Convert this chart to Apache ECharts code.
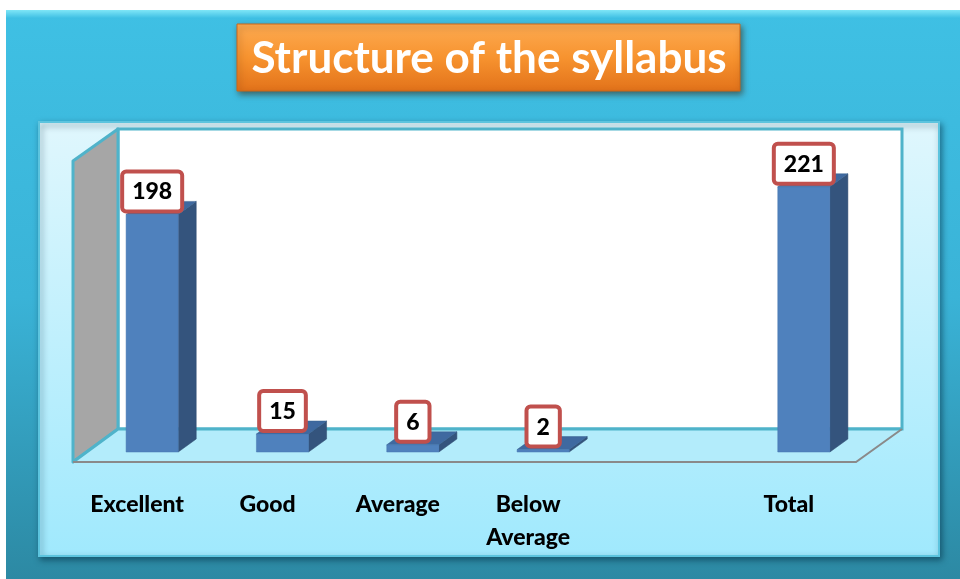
<!DOCTYPE html>
<html>
<head>
<meta charset="utf-8">
<script src="https://cdn.jsdelivr.net/npm/echarts@6/dist/echarts.min.js"></script>
<style>
  html, body { margin: 0; padding: 0; background: #fff; }
  #main { width: 960px; height: 579px; }
</style>
</head>
<body>
<div id="main"></div>
<script>
const titleText = 'Structure of the syllabus';
const categories = ['Excellent', 'Good', 'Average', 'Below\nAverage', '', 'Total'];
const values = [198, 15, 6, 2, null, 221];

// pairs for the custom series, blank slot skipped
const barData = [];
values.forEach(function (v, i) {
  if (v !== null) barData.push([i, v]);
});

const chart = echarts.init(document.getElementById('main'));

function renderBar(params, api) {
  const x = api.value(0);
  const v = api.value(1);
  const base = api.coord([x, 0]);
  const top = api.coord([x, v]);
  const w = api.size([1, 0])[0] * 0.4;
  const dx = 18, dy = 13;
  const l = base[0] - w / 2, r = base[0] + w / 2;
  return {
    type: 'group',
    children: [
      {
        type: 'polygon',
        shape: { points: [[r, base[1]], [r, top[1]], [r + dx, top[1] - dy], [r + dx, base[1] - dy]] },
        style: { fill: '#34547d', stroke: '#2e4a6e', lineWidth: 0.5 }
      },
      {
        type: 'polygon',
        shape: { points: [[l, top[1]], [r, top[1]], [r + dx, top[1] - dy], [l + dx, top[1] - dy]] },
        style: { fill: '#3f69a0', stroke: '#37608f', lineWidth: 0.5 }
      },
      {
        type: 'rect',
        shape: { x: l, y: top[1], width: w, height: base[1] - top[1] },
        style: { fill: '#4f81bd', stroke: '#4677b0', lineWidth: 0.5 }
      },
      {
        type: 'text',
        x: base[0],
        y: top[1] - 5,
        z2: 10,
        style: {
          text: String(v),
          fill: '#000',
          font: '900 23px Lato',
          align: 'center',
          verticalAlign: 'bottom',
          backgroundColor: '#fff',
          borderColor: '#c0504d',
          borderWidth: 4,
          borderRadius: 2,
          padding: [7, 8, 6, 8]
        }
      }
    ]
  };
}

chart.setOption({
  animation: false,
  graphic: [
    // outer frame
    {
      type: 'rect', z: -20,
      shape: { x: 6, y: 10, width: 960, height: 575 },
      style: {
        fill: new echarts.graphic.LinearGradient(0, 0, 0, 1, [
          { offset: 0, color: '#3fc0e4' },
          { offset: 0.5, color: '#3ab3d7' },
          { offset: 1, color: '#2c88a2' }
        ])
      }
    },
    {
      type: 'rect', z: -19,
      shape: { x: 6, y: 10, width: 960, height: 8 },
      style: {
        fill: new echarts.graphic.LinearGradient(0, 0, 0, 1, [
          { offset: 0, color: '#7fe6f7' },
          { offset: 1, color: '#3fc0e4' }
        ])
      }
    },
    // inner panel
    {
      type: 'rect', z: -18,
      shape: { x: 39, y: 122, width: 900, height: 434 },
      style: {
        fill: new echarts.graphic.LinearGradient(0, 0, 0, 1, [
          { offset: 0, color: '#e0f7fd' },
          { offset: 1, color: '#a0e9fd' }
        ]),
        stroke: '#5cc4de',
        lineWidth: 2,
        shadowColor: 'rgba(0,40,60,0.5)',
        shadowBlur: 6,
        shadowOffsetX: 2,
        shadowOffsetY: 3
      }
    },
    // title box
    {
      type: 'rect', z: -10,
      shape: { x: 237, y: 24, width: 503, height: 67 },
      style: {
        fill: new echarts.graphic.LinearGradient(0, 0, 0, 1, [
          { offset: 0, color: '#fdab52' },
          { offset: 0.5, color: '#f7932f' },
          { offset: 1, color: '#e2721a' }
        ]),
        stroke: '#c9661a',
        lineWidth: 1,
        shadowColor: 'rgba(60,30,0,0.55)',
        shadowBlur: 6,
        shadowOffsetX: 2,
        shadowOffsetY: 3
      }
    },
    {
      type: 'text', z: -9,
      x: 489, y: 59,
      style: {
        text: titleText,
        fill: '#fff',
        font: 'bold 44px Lato',
        align: 'center',
        verticalAlign: 'middle',
        shadowColor: 'rgba(0,0,0,0.35)',
        shadowBlur: 2,
        shadowOffsetX: 1,
        shadowOffsetY: 1
      }
    },
    // back wall
    {
      type: 'rect', z: -8,
      shape: { x: 118, y: 129, width: 784, height: 300 },
      style: { fill: '#fff', stroke: '#4fb3ca', lineWidth: 3 }
    },
    // left wall
    {
      type: 'polygon', z: -8,
      shape: { points: [[73, 462], [73, 161], [118, 129], [118, 429]] },
      style: { fill: '#a6a6a6', stroke: '#4fb3ca', lineWidth: 3, lineJoin: 'round' }
    },
    // floor
    {
      type: 'polygon', z: -7,
      shape: { points: [[73, 462], [856, 462], [902, 429], [118, 429]] },
      style: { fill: '#b3ecfb' }
    },
    {
      type: 'polyline', z: -6,
      shape: { points: [[73, 462], [118, 429], [902, 429]] },
      style: { stroke: '#4fb3ca', lineWidth: 3, fill: null }
    },
    {
      type: 'polyline', z: -6,
      shape: { points: [[73, 462], [856, 462], [902, 429]] },
      style: { stroke: '#8a8a8a', lineWidth: 2, fill: null }
    }
  ],
  grid: { left: 87, right: 91, top: 152, bottom: 127 },
  xAxis: {
    type: 'category',
    data: categories,
    axisLine: { show: false },
    axisTick: { show: false },
    splitLine: { show: false },
    axisLabel: {
      interval: 0,
      margin: 36,
      color: '#000',
      fontFamily: 'Lato',
      fontWeight: 900,
      fontSize: 23,
      lineHeight: 33,
      padding: [0, 30, 0, 0]
    }
  },
  yAxis: {
    type: 'value',
    min: 0,
    max: 250,
    show: false,
    splitLine: { show: false }
  },
  series: [{
    type: 'custom',
    renderItem: renderBar,
    encode: { x: 0, y: 1 },
    data: barData,
    clip: false
  }]
});
</script>
</body>
</html>
